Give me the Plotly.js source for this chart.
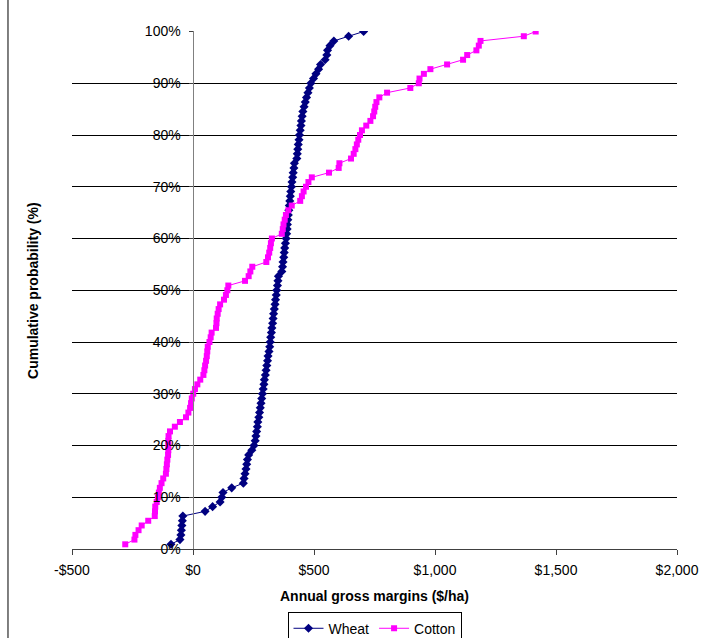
<!DOCTYPE html>
<html>
<head>
<meta charset="utf-8">
<script src="https://cdn.plot.ly/plotly-3.0.1.min.js"></script>
<style>
  html, body { margin: 0; padding: 0; background: #ffffff; }
  #chart { width: 703px; height: 638px; }
</style>
</head>
<body>
<div id="chart"></div>
<script>
// Annual gross margins ($/ha), sorted from lowest to highest season
const wheatMargins = [
  -91, -54, -50, -48, -46, -44, -42, 50, 81, 112,
  119, 124, 160, 208, 211, 215, 219, 222, 225, 230,
  243, 252, 257, 260, 263, 266, 268, 272, 275, 278,
  281, 284, 287, 290, 293, 295, 299, 302, 305, 308,
  310, 314, 317, 319, 321, 324, 326, 329, 331, 333,
  336, 339, 341, 344, 346, 349, 351, 353, 367, 370,
  372, 375, 377, 379, 382, 385, 387, 389, 390, 392,
  394, 396, 398, 400, 402, 404, 407, 409, 412, 414,
  417, 419, 429, 431, 433, 435, 438, 440, 443, 446,
  448, 451, 454, 459, 464, 469, 475, 481, 487, 498,
  508, 519, 527, 546, 553, 556, 566, 582, 643, 705
];

const cottonMargins = [
  -280, -242, -238, -225, -212, -185, -158, -157, -156, -150,
  -145, -141, -137, -130, -123, -112, -110, -108, -106, -103,
  -102, -102, -102, -101, -95, -75, -54, -29, -19, -12,
  -8, -5, 1, 8, 18, 30, 43, 47, 50, 54,
  57, 59, 61, 68, 73, 77, 95, 97, 98, 102,
  106, 112, 128, 136, 142, 146, 215, 230, 237, 245,
  303, 310, 315, 319, 322, 326, 367, 371, 374, 379,
  384, 394, 408, 443, 450, 457, 467, 477, 491, 562,
  602, 605, 653, 664, 671, 677, 683, 690, 698, 716,
  733, 744, 749, 753, 758, 770, 802, 898, 933, 936,
  954, 981, 1050, 1116, 1133, 1171, 1181, 1188, 1367, 1416
];

const seriesNames = ['Wheat', 'Cotton'];

const xTickValues = [-500, 0, 500, 1000, 1500, 2000];
const xTickLabels = ['-$500', '$0', '$500', '$1,000', '$1,500', '$2,000'];
const yTickValues = [0, 0.1, 0.2, 0.3, 0.4, 0.5, 0.6, 0.7, 0.8, 0.9, 1.0];
const yTickLabels = ['0%', '10%', '20%', '30%', '40%', '50%', '60%', '70%', '80%', '90%', '100%'];

// Empirical cumulative probability: rank / number of seasons
function cumulative(values) {
  return values.map((v, i) => (i + 1) / values.length);
}

const FONT = 'Liberation Sans, Arial, Helvetica, sans-serif';

const traces = [
  {
    x: wheatMargins,
    y: cumulative(wheatMargins),
    name: seriesNames[0],
    type: 'scatter',
    mode: 'lines+markers',
    line: { color: '#000080', width: 1 },
    marker: { symbol: 'diamond', size: 7, color: '#000080' }
  },
  {
    x: cottonMargins,
    y: cumulative(cottonMargins),
    name: seriesNames[1],
    type: 'scatter',
    mode: 'lines+markers',
    line: { color: '#FF00FF', width: 1 },
    marker: { symbol: 'square', size: 6, color: '#FF00FF' }
  }
];

const layout = {
  width: 703,
  height: 638,
  margin: { l: 72, r: 26, t: 31, b: 89, autoexpand: false },
  paper_bgcolor: '#ffffff',
  plot_bgcolor: '#ffffff',
  font: { family: FONT, size: 14, color: '#000000' },
  showlegend: true,
  xaxis: {
    range: [-500, 2000],
    tickmode: 'array',
    tickvals: xTickValues,
    ticktext: xTickLabels,
    showgrid: false,
    zeroline: false,
    showline: true,
    linecolor: '#404040',
    linewidth: 1,
    ticks: 'outside',
    ticklen: 5,
    tickcolor: '#404040',
    ticklabelstandoff: 3,
    tickfont: { family: FONT, size: 14, color: '#000000' },
    automargin: false,
    title: {
      text: '<b>Annual gross margins ($/ha)</b>',
      font: { family: FONT, size: 14, color: '#000000' },
      standoff: 14
    }
  },
  yaxis: {
    range: [0, 1.001],
    anchor: 'free',
    position: 0.2008,
    tickmode: 'array',
    tickvals: yTickValues,
    ticktext: yTickLabels,
    showgrid: true,
    gridcolor: '#000000',
    gridwidth: 1,
    zeroline: false,
    showline: true,
    linecolor: '#808080',
    linewidth: 1,
    ticks: 'outside',
    ticklen: 4,
    tickcolor: '#404040',
    ticklabelstandoff: 6,
    automargin: false,
    tickfont: { family: FONT, size: 14, color: '#000000' }
  },
  legend: {
    orientation: 'h',
    x: 0.5,
    xanchor: 'center',
    y: -0.121,
    yanchor: 'top',
    bgcolor: '#ffffff',
    bordercolor: '#000000',
    borderwidth: 1,
    font: { family: FONT, size: 14, color: '#000000' },
    itemwidth: 30,
    tracegroupgap: 0
  },
  annotations: [
    {
      text: '<b>Cumulative probability (%)</b>',
      xref: 'paper',
      yref: 'paper',
      x: -0.0645,
      y: 0.5,
      xanchor: 'center',
      yanchor: 'middle',
      textangle: -90,
      showarrow: false,
      font: { family: FONT, size: 14, color: '#000000' }
    }
  ],
  shapes: [
    // chart-area border on the left edge
    {
      type: 'line',
      xref: 'paper',
      yref: 'paper',
      x0: -0.1058,
      x1: -0.1058,
      y0: -0.18,
      y1: 1.07,
      line: { color: '#000000', width: 1 }
    }
  ]
};

Plotly.newPlot('chart', traces, layout, { displayModeBar: false, staticPlot: true });
</script>
</body>
</html>
